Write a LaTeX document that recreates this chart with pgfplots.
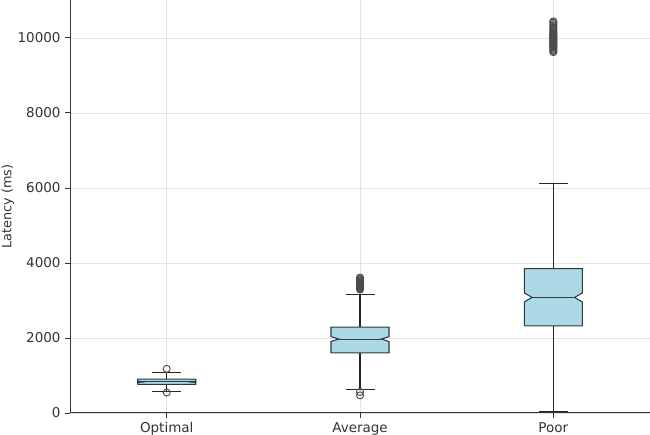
\documentclass[border=0pt]{standalone}
\usepackage{pgfplots}
\pgfplotsset{compat=1.18}
\usepackage{fontspec}
\setmainfont{DejaVu Sans}
\definecolor{boxfill}{HTML}{ADD8E6}
\definecolor{boxedge}{HTML}{2A3A40}
\definecolor{txt}{HTML}{333333}
\definecolor{gridc}{HTML}{E3E3E3}
\pgfplotsset{
  whisk/.style={draw=black!85, line width=0.8pt, mark=none},
  flier/.style={only marks, mark=o, mark size=2.6pt, mark options={draw=black!70, fill=none, line width=0.7pt}},
  nbox/.style={draw=boxedge, fill=boxfill, line width=0.8pt, mark=none},
}
\begin{document}
\begin{tikzpicture}
\begin{axis}[
  width=429.6pt, height=305.9pt, scale only axis,
  xmin=0.5, xmax=3.5, ymin=0, ymax=11010,
  xtick={1,2,3}, xticklabels={Optimal,Average,Poor},
  ytick={0,2000,4000,6000,8000,10000},
  scaled y ticks=false,
  /pgf/number format/assume math mode=true,
  yticklabel style={/pgf/number format/1000 sep={}},
  ylabel={Latency (ms)},
  ylabel style={font=\fontsize{9.5}{11}\selectfont, text=txt, at={(rel axis cs:0,0.5)}, yshift=46pt, anchor=center},
  ticklabel style={font=\fontsize{10}{12}\selectfont, text=txt},
  axis x line*=bottom, axis y line*=left,
  axis line style={txt, line width=0.8pt},
  tick style={txt, line width=0.6pt},
  major tick length=3.5pt,
  tick align=outside,
  grid=major, grid style={gridc, line width=0.5pt},
  clip=false,
]
% Optimal
\addplot[whisk] coordinates {(1,570) (1,760)};
\addplot[whisk] coordinates {(1,900) (1,1070)};
\addplot[whisk] coordinates {(0.925,570) (1.075,570)};
\addplot[whisk] coordinates {(0.925,1070) (1.075,1070)};
\addplot[nbox] coordinates {(0.85,760) (1.15,760) (1.15,815) (1.11,830) (1.15,845) (1.15,900) (0.85,900) (0.85,845) (0.89,830) (0.85,815) (0.85,760)};
\addplot[draw=boxedge, line width=0.8pt] coordinates {(0.89,830) (1.11,830)};
\addplot[flier] coordinates {(1,1175) (1,545)};
% Average
\addplot[whisk] coordinates {(2,620) (2,1600)};
\addplot[whisk] coordinates {(2,2290) (2,3170)};
\addplot[whisk] coordinates {(1.925,620) (2.075,620)};
\addplot[whisk] coordinates {(1.925,3170) (2.075,3170)};
\addplot[nbox] coordinates {(1.85,1600) (2.15,1600) (2.15,1905) (2.11,1970) (2.15,2035) (2.15,2290) (1.85,2290) (1.85,2035) (1.89,1970) (1.85,1905) (1.85,1600)};
\addplot[draw=boxedge, line width=0.8pt] coordinates {(1.89,1970) (2.11,1970)};
\addplot[flier] coordinates {(2,3290) (2,3310) (2,3330) (2,3350) (2,3370) (2,3390) (2,3400) (2,3420) (2,3440) (2,3460) (2,3480) (2,3500) (2,3530) (2,3560) (2,3590) (2,3610) (2,560) (2,470)};
% Poor
\addplot[whisk] coordinates {(3,50) (3,2320)};
\addplot[whisk] coordinates {(3,3850) (3,6110)};
\addplot[whisk] coordinates {(2.925,50) (3.075,50)};
\addplot[whisk] coordinates {(2.925,6110) (3.075,6110)};
\addplot[nbox] coordinates {(2.85,2320) (3.15,2320) (3.15,2960) (3.11,3080) (3.15,3200) (3.15,3850) (2.85,3850) (2.85,3200) (2.89,3080) (2.85,2960) (2.85,2320)};
\addplot[draw=boxedge, line width=0.8pt] coordinates {(2.89,3080) (3.11,3080)};
\addplot[flier] coordinates {(3,9620) (3,9650) (3,9680) (3,9710) (3,9740) (3,9760) (3,9780) (3,9800) (3,9820) (3,9840) (3,9860) (3,9880) (3,9900) (3,9920) (3,9940) (3,9960) (3,9980) (3,10000) (3,10020) (3,10040) (3,10060) (3,10080) (3,10100) (3,10120) (3,10150) (3,10180) (3,10210) (3,10250) (3,10290) (3,10330) (3,10370) (3,10410) (3,10440)};
\coordinate (bl) at (rel axis cs:0,0);
\coordinate (tr) at (rel axis cs:1,1);
\end{axis}
\pgfresetboundingbox
\path[use as bounding box] ([shift={(-51.9pt,-15.6pt)}]bl) rectangle (tr);
\end{tikzpicture}
\end{document}
